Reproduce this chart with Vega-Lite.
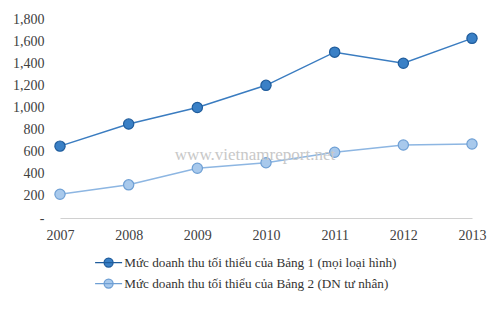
{
  "$schema": "https://vega.github.io/schema/vega-lite/v6.json",
  "width": 412,
  "height": 199,
  "autosize": {"type": "none"},
  "padding": {"left": 60, "top": 19, "right": 28, "bottom": 99},
  "background": "white",
  "config": {
    "view": {"stroke": null},
    "font": "Liberation Serif",
    "axis": {"labelFont": "Liberation Serif", "labelFontSize": 14, "labelColor": "#404040", "ticks": false, "grid": false, "title": null, "labelOverlap": false, "labelFlush": false},
    "legend": {"labelFont": "Liberation Serif"}
  },
  "datasets": {
    "series": [
      {"year": 2007, "value": 650, "series": "Mức doanh thu tối thiểu của Bảng 1 (mọi loại hình)"},
      {"year": 2008, "value": 850, "series": "Mức doanh thu tối thiểu của Bảng 1 (mọi loại hình)"},
      {"year": 2009, "value": 1000, "series": "Mức doanh thu tối thiểu của Bảng 1 (mọi loại hình)"},
      {"year": 2010, "value": 1200, "series": "Mức doanh thu tối thiểu của Bảng 1 (mọi loại hình)"},
      {"year": 2011, "value": 1500, "series": "Mức doanh thu tối thiểu của Bảng 1 (mọi loại hình)"},
      {"year": 2012, "value": 1400, "series": "Mức doanh thu tối thiểu của Bảng 1 (mọi loại hình)"},
      {"year": 2013, "value": 1625, "series": "Mức doanh thu tối thiểu của Bảng 1 (mọi loại hình)"},
      {"year": 2007, "value": 215, "series": "Mức doanh thu tối thiểu của Bảng 2 (DN tư nhân)"},
      {"year": 2008, "value": 300, "series": "Mức doanh thu tối thiểu của Bảng 2 (DN tư nhân)"},
      {"year": 2009, "value": 450, "series": "Mức doanh thu tối thiểu của Bảng 2 (DN tư nhân)"},
      {"year": 2010, "value": 500, "series": "Mức doanh thu tối thiểu của Bảng 2 (DN tư nhân)"},
      {"year": 2011, "value": 595, "series": "Mức doanh thu tối thiểu của Bảng 2 (DN tư nhân)"},
      {"year": 2012, "value": 660, "series": "Mức doanh thu tối thiểu của Bảng 2 (DN tư nhân)"},
      {"year": 2013, "value": 670, "series": "Mức doanh thu tối thiểu của Bảng 2 (DN tư nhân)"}
    ],
    "mark": [{"year": 2009.84, "value": 570, "text": "www.vietnamreport.net"}]
  },
  "encoding": {
    "x": {"field": "year", "type": "quantitative", "scale": {"domain": [2007, 2013], "nice": false, "zero": false},
          "axis": {"values": [2007, 2008, 2009, 2010, 2011, 2012, 2013], "format": "d", "labelPadding": 10, "domainColor": "#d0d0d0", "domainWidth": 1.2,
                   "labelFont": "Liberation Serif", "labelFontSize": 14, "labelOverlap": false, "labelFlush": false}},
    "y": {"field": "value", "type": "quantitative", "scale": {"domain": [0, 1800], "nice": false},
          "axis": {"values": [0, 200, 400, 600, 800, 1000, 1200, 1400, 1600, 1800], "domain": false, "labelPadding": 16,
                   "labelFont": "Liberation Serif", "labelFontSize": 14, "labelOverlap": false, "labelFlush": false,
                   "labelExpr": "datum.value == 0 ? '-' : format(datum.value, ',')"}}
  },
  "layer": [
    {
      "data": {"name": "series"},
      "mark": {"type": "line", "strokeWidth": 1.5},
      "encoding": {
        "color": {"field": "series", "type": "nominal",
                  "scale": {"range": ["#3a7cc0", "#8db6e2"]},
                  "legend": null}
      }
    },
    {
      "data": {"name": "series"},
      "mark": {"type": "point", "filled": true, "size": 105, "opacity": 1, "strokeWidth": 1.2},
      "encoding": {
        "fill": {"field": "series", "type": "nominal",
                 "scale": {"range": ["#3a80c6", "#a8c9ec"]},
                 "legend": {"title": null, "orient": "none", "legendX": 42, "legendY": 237, "direction": "vertical",
                            "labelFont": "Liberation Serif", "labelFontSize": 13.2, "labelColor": "#333333", "labelLimit": 0,
                            "rowPadding": 6, "labelOffset": 9,
                            "symbolType": "M-3,0H3M-1,0A1,1 0 1,0 1,0A1,1 0 1,0 -1,0",
                            "symbolSize": 81, "symbolStrokeWidth": 1.3,
                            "encode": {"symbols": {"update": {"stroke": {"scale": "stroke", "field": "value"}}}}}},
        "stroke": {"field": "series", "type": "nominal",
                   "scale": {"range": ["#1f5c9c", "#6e9fd4"]}, "legend": null}
      }
    },
    {
      "data": {"name": "mark"},
      "mark": {"type": "text", "font": "Liberation Serif", "fontSize": 17, "color": "#c8c8c8", "align": "center", "baseline": "middle"},
      "encoding": {
        "text": {"field": "text"}
      }
    }
  ]
}
